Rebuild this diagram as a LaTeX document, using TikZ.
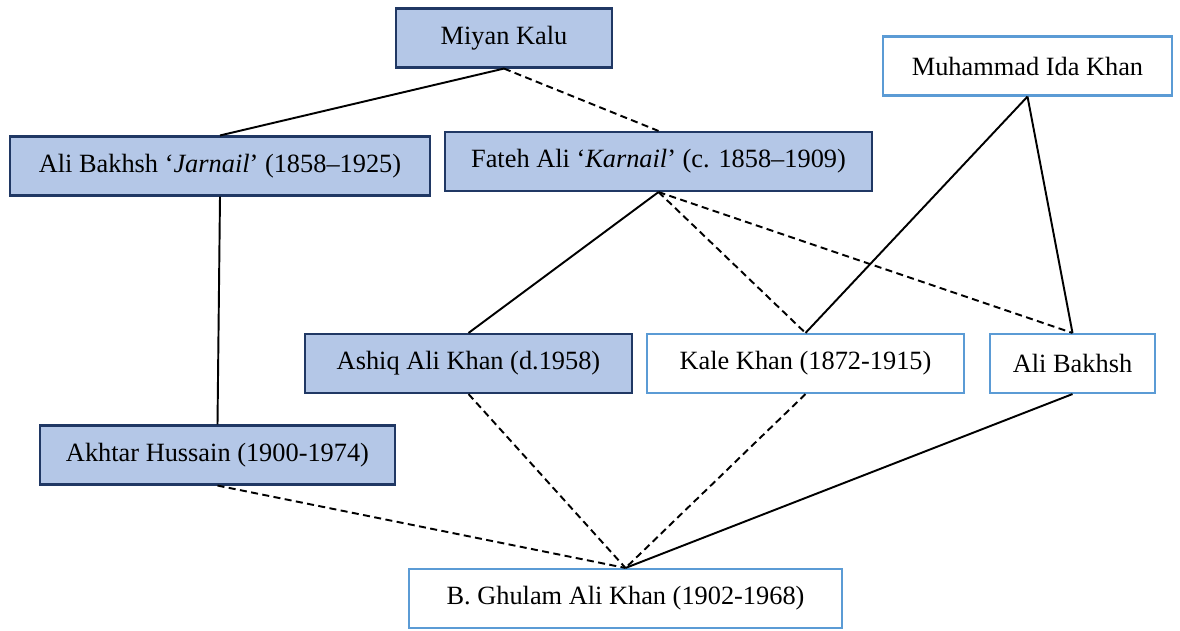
\documentclass[tikz,border=0pt]{standalone}
\usepackage{fontspec}
\setmainfont{Liberation Serif}
\definecolor{boxfill}{HTML}{B4C7E7}
\definecolor{darkedge}{HTML}{203864}
\definecolor{lightedge}{HTML}{5B9BD5}
\begin{document}
\begin{tikzpicture}
        [x=0.02cm,y=-0.02cm,
          persondecorate/.style={shape=rectangle,inner sep=0pt,minimum height=1.18cm,
            line width=1.2pt,font=\fontsize{15}{18}\selectfont},
          shadeddecorate/.style={persondecorate,draw=darkedge,fill=boxfill},
          plaindecorate/.style={persondecorate,draw=lightedge,fill=white},
          linedecorate/.style={-,line width=1.1pt},
          dashdecorate/.style={-,line width=1.1pt,dash pattern=on 4pt off 2.5pt}]
        \useasboundingbox (0,0) rectangle (1180,630);
        %% shaded persons
        \foreach \nodename/\x/\y/\w/\txt in {mk/504/38/4.32/{Miyan Kalu},
          abj/220/166/8.4/{Ali Bakhsh ‘\textit{Jarnail}’ (1858–1925)},
          fak/658.5/161.5/8.54/{Fateh Ali ‘\textit{Karnail}’ (c. 1858–1909)},
          aak/468.5/363.5/6.54/{Ashiq Ali Khan (d.1958)},
          ah/217.5/455/7.1/{Akhtar Hussain (1900-1974)}}
        {
          \node (\nodename) at (\x,\y) [shadeddecorate,minimum width=\w cm] {\txt};
        }
        %% plain persons
        \foreach \nodename/\x/\y/\w/\txt in {mik/1027.5/66/5.78/{Muhammad Ida Khan},
          kk/805.5/363.5/6.34/{Kale Khan (1872-1915)},
          ab/1072.5/363.5/3.3/{Ali Bakhsh},
          bgak/625.5/598.5/8.66/{B. Ghulam Ali Khan (1902-1968)}}
        {
          \node (\nodename) at (\x,\y) [plaindecorate,minimum width=\w cm] {\txt};
        }
        %% solid lines
        \path
        \foreach \startnode/\endnode in {mk/abj, mik/kk, mik/ab, abj/ah,
          fak/aak, ab/bgak}
        {
          (\startnode.south) edge[linedecorate] (\endnode.north)
        };
        %% dashed lines
        \path
        \foreach \startnode/\endnode in {mk/fak, fak/kk, fak/ab, aak/bgak,
          kk/bgak, ah/bgak}
        {
          (\startnode.south) edge[dashdecorate] (\endnode.north)
        };
        \end{tikzpicture}
\end{document}
